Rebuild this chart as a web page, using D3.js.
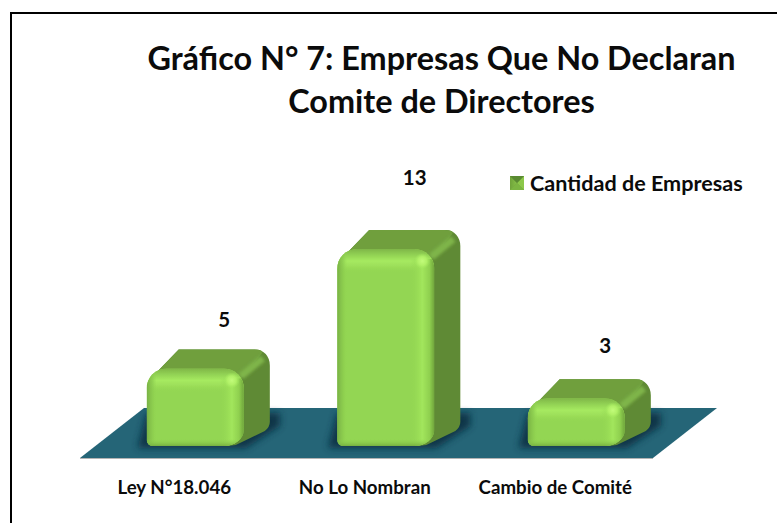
<!DOCTYPE html>
<html><head><meta charset="utf-8">
<script src="https://cdn.jsdelivr.net/npm/d3@7"></script>
<style>html,body{margin:0;padding:0;background:#fff;overflow:hidden}svg{display:block}
text{font-family:Lato,"Open Sans",sans-serif;font-weight:700;fill:#0b0b0b}</style></head>
<body><svg id="c" width="777" height="523"></svg>
<script>
const categories = ["Ley N°18.046", "No Lo Nombran", "Cambio de Comité"];
const values = [5, 13, 3];
const seriesName = "Cantidad de Empresas";
const titleLines = ["Gráfico N° 7: Empresas Que No Declaran", "Comite de Directores"];

const svg = d3.select("#c");
const defs = svg.append("defs");
const grad = (id, dir, stops, tag) => {
  const g = defs.append(tag || "linearGradient").attr("id", id);
  if (!tag) { if (dir === "v") g.attr("x2", 0).attr("y2", 1); else g.attr("x2", 1).attr("y2", 0); }
  stops.forEach(s => g.append("stop").attr("offset", s[0]).attr("stop-color", s[1]).attr("stop-opacity", s[2] === undefined ? 1 : s[2]));
};
grad("gTop", "v", [[0, "#7fb648"], [.25, "#92d254"], [.5, "#a6ea60"], [.7, "#a0e25c", .8], [1, "#93d652", 0]]);
grad("gLeft", "h", [[0, "#78b044"], [.6, "#8aca4e", .7], [1, "#93d652", 0]]);
grad("gRight", "h", [[0, "#93d652", 0], [.5, "#a2e65c"], [.8, "#8fd04f"], [1, "#6fa43c"]]);
grad("gBottom", "v", [[0, "#93d652", 0], [1, "#76b040"]]);
grad("gBlob", "", [[0, "#c2fc7a"], [.55, "#b2f268", .9], [1, "#a4ea5e", 0]], "radialGradient");
grad("lB", "h", [[0, "#6fa33a"], [1, "#86c048"]]);
const blurF = (id, s) => defs.append("filter").attr("id", id).attr("x", "-30%").attr("y", "-60%").attr("width", "160%").attr("height", "220%")
  .append("feGaussianBlur").attr("stdDeviation", s);
blurF("blur", 3.5); blurF("soft", 1.4); blurF("tiny", 0.5);

// frame
svg.append("path").attr("d", "M11,523V13H777").attr("fill", "none").attr("stroke", "#000").attr("stroke-width", 2);

// title
svg.append("g").selectAll("text").data(titleLines).join("text")
  .attr("x", 441.5).attr("y", (d, i) => i ? 113 : 70)
  .attr("text-anchor", "middle").attr("font-size", 32.4).text(d => d);

// scales
const x = d3.scaleBand().domain(categories).range([100, 671.5]).paddingInner(0.49).paddingOuter(0.245);
const y = d3.scaleLinear().domain([0, 13]).range([443, 249]);
const baseY = 446, depthX = 26, depthY = 19;
const bw = x.bandwidth();

// floor
const fl = {l: 80, r: 653, b: 458, t: 408, dx: 64};
svg.append("path").attr("d", `M${fl.l},${fl.b}H${fl.r}L${fl.r + fl.dx},${fl.t}H${fl.l + fl.dx}Z`).attr("fill", "#256577");
svg.append("line").attr("x1", fl.l).attr("x2", fl.r).attr("y1", fl.b + .5).attr("y2", fl.b + .5).attr("stroke", "#b3b3b3");

const rows = categories.map((c, i) => ({c, v: values[i], i}));
const bars = svg.append("g").selectAll("g").data(rows).join("g");

// contact shadow on the floor
bars.append("path").attr("filter", "url(#blur)").attr("fill", "#0f3344").attr("opacity", .95)
  .attr("d", d => {
    const L = x(d.c), R = L + bw;
    return `M${L - 9},${baseY + 2}H${R + 2}L${R + depthX + 10},${baseY - depthY - 1}V${baseY - depthY - 14}H${L}Z`;
  });

const body = bars.append("g").attr("filter", "url(#tiny)");
// side silhouette
body.append("path").attr("fill", "#5f8a34").attr("d", d => {
  const L = x(d.c), R = L + bw, T = y(d.v);
  const bx = R + depthX, tY = T - depthY, bY = baseY - depthY;
  return `M${L + 4},${T + 10}L${L + 32},${tY}H${bx - 14}A14,16 0 0 1 ${bx},${tY + 16}V${bY - 5}Q${bx},${bY} ${bx - 5},${bY + 4}L${R - 8},${baseY - 1}Q${R - 14},${baseY} ${R - 20},${baseY}H${L + 20}Z`;
});
// cap
body.append("path").attr("fill", "#6f9f3e").attr("d", d => {
  const L = x(d.c), R = L + bw, T = y(d.v);
  const bx = R + depthX, tY = T - depthY;
  return `M${L + 4},${T + 10}L${L + 32},${tY}H${bx - 16}Q${bx - 6},${tY} ${bx - 8},${tY + 4}L${R - 2},${T + 9}V${T + 14}H${L + 8}Z`;
});
// ridge between cap and side
body.append("path").attr("fill", "none").attr("stroke", "#7fb54a").attr("stroke-width", 7).attr("filter", "url(#soft)")
  .attr("d", d => {
    const R = x(d.c) + bw, T = y(d.v);
    return `M${R - 3},${T + 8}L${R + depthX - 7},${T - depthY + 9}`;
  });

// front face
const frontPath = d => {
  const L = x(d.c), R = L + bw, T = y(d.v), B = baseY, r = 20;
  return `M${L},${T + r}A${r},${r} 0 0 1 ${L + r},${T}H${R - r}A${r},${r} 0 0 1 ${R},${T + r}V${B - 16}A20,16 0 0 1 ${R - 20},${B}H${L + 6}A6,6 0 0 1 ${L},${B - 6}Z`;
};
bars.each(function (d) {
  const id = "clip" + d.i;
  defs.append("clipPath").attr("id", id).append("path").attr("d", frontPath(d));
  const f = d3.select(this).append("g").attr("filter", "url(#tiny)").append("g").attr("clip-path", `url(#${id})`);
  const L = x(d.c), T = y(d.v);
  f.append("rect").attr("x", L).attr("y", T).attr("width", bw).attr("height", baseY - T).attr("fill", "#93d652");
  f.append("rect").attr("x", L).attr("y", T).attr("width", bw).attr("height", 24).attr("fill", "url(#gTop)");
  f.append("rect").attr("x", L).attr("y", T).attr("width", 10).attr("height", baseY - T).attr("fill", "url(#gLeft)");
  f.append("rect").attr("x", L + bw - 24).attr("y", T + 10).attr("width", 24).attr("height", baseY - T).attr("fill", "url(#gRight)");
  f.append("rect").attr("x", L).attr("y", baseY - 7).attr("width", bw).attr("height", 7).attr("fill", "url(#gBottom)");
  f.append("circle").attr("cx", L + bw - 12).attr("cy", T + 12).attr("r", 8).attr("fill", "url(#gBlob)");
});

// value labels
const labelLift = [29, 52, 33];
svg.append("g").selectAll("text").data(rows).join("text")
  .attr("x", d => x(d.c) + bw / 2 + 29).attr("y", d => y(d.v) - depthY - labelLift[d.i] + 7)
  .attr("text-anchor", "middle").attr("font-size", 20.5).text(d => d.v);

// category axis
const axis = svg.append("g").attr("transform", "translate(-21,479)")
  .call(d3.axisBottom(x).tickSize(0).tickPadding(0));
axis.select(".domain").remove();
axis.selectAll("text").attr("font-size", 18.7).attr("dy", "0.8em").style("font-family", "Lato").style("font-weight", 700).attr("fill", "#0b0b0b");

// legend
const lg = svg.append("g").attr("transform", "translate(510,176)");
lg.append("rect").attr("width", 14).attr("height", 14).attr("fill", "#6f9f3a");
lg.append("path").attr("d", "M0,0L7,7L0,14Z").attr("fill", "url(#lB)");
lg.append("path").attr("d", "M14,0L7,7L14,14Z").attr("fill", "#8cc84a");
lg.append("path").attr("d", "M0,0H14L7,7Z").attr("fill", "#5a8a32");
lg.append("path").attr("d", "M0,14H14L7,7Z").attr("fill", "#7cb542");
svg.append("text").attr("x", 530).attr("y", 191).attr("font-size", 21.6).text(seriesName);
</script></body></html>
